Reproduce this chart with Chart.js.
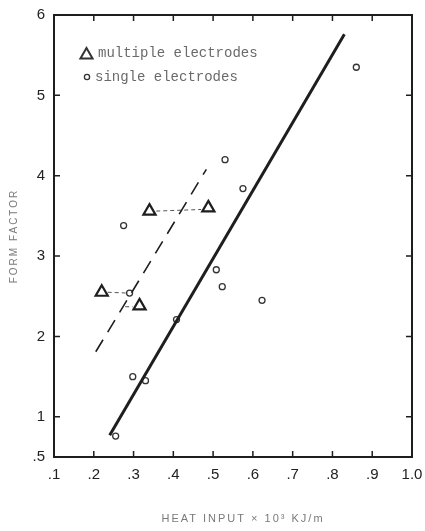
<!DOCTYPE html>
<html>
<head>
<meta charset="utf-8">
<script src="https://cdn.jsdelivr.net/npm/chart.js@4.4.1/dist/chart.umd.min.js"></script>
<style>
  html, body { margin: 0; padding: 0; background: #fff; }
  #c { display: block; }
</style>
</head>
<body>
<canvas id="c" width="425" height="531"></canvas>
<script>
// ---- data ----
const xTicks = [0.1, 0.2, 0.3, 0.4, 0.5, 0.6, 0.7, 0.8, 0.9, 1.0];
const xTickLabels = ['.1', '.2', '.3', '.4', '.5', '.6', '.7', '.8', '.9', '1.0'];
const yTicks = [0.5, 1, 2, 3, 4, 5, 6];
const yTickLabels = ['.5', '1', '2', '3', '4', '5', '6'];

const singleX = [0.255, 0.275, 0.290, 0.298, 0.330, 0.408, 0.508, 0.523, 0.530, 0.575, 0.623, 0.860];
const singleY = [0.76, 3.38, 2.54, 1.50, 1.45, 2.21, 2.83, 2.62, 4.20, 3.84, 2.45, 5.35];

const multiX = [0.220, 0.315, 0.340, 0.488];
const multiY = [2.55, 2.38, 3.56, 3.60];

const singleFitX = [0.240, 0.830];
const singleFitY = [0.77, 5.76];

const multiFitX = [0.205, 0.483];
const multiFitY = [1.81, 4.08];

const link1X = [0.235, 0.283]; const link1Y = [2.55, 2.54];
const link2X = [0.279, 0.298]; const link2Y = [2.37, 2.37];
const link3X = [0.357, 0.470]; const link3Y = [3.56, 3.58];

const legendLabels = ['multiple electrodes', 'single electrodes'];
const xTitle = 'HEAT INPUT \u00d7 10\u00b3 KJ/m';
const yTitle = 'FORM FACTOR';

const pts = (xs, ys) => xs.map((x, i) => ({ x: x, y: ys[i] }));

const INK = '#1e1e1e';

const linkStyle = {
  showLine: true, pointRadius: 0, borderColor: '#555', borderWidth: 1,
  borderDash: [4, 3], fill: false
};

const framePlugin = {
  id: 'frame',
  afterDatasetsDraw(chart) {
    const { ctx, chartArea: a, scales } = chart;
    const xs = scales.x, ys = scales.y;
    ctx.save();
    ctx.strokeStyle = INK;
    ctx.lineWidth = 2;
    ctx.strokeRect(a.left, a.top, a.right - a.left, a.bottom - a.top);
    ctx.lineWidth = 1.5;
    const tl = 6;
    ctx.beginPath();
    xTicks.forEach(v => {
      if (v <= xs.min || v >= xs.max) return;
      const px = xs.getPixelForValue(v);
      ctx.moveTo(px, a.bottom); ctx.lineTo(px, a.bottom - tl);
      ctx.moveTo(px, a.top); ctx.lineTo(px, a.top + tl);
    });
    yTicks.forEach(v => {
      if (v <= ys.min || v >= ys.max) return;
      const py = ys.getPixelForValue(v);
      ctx.moveTo(a.left, py); ctx.lineTo(a.left + tl, py);
      ctx.moveTo(a.right, py); ctx.lineTo(a.right - tl, py);
    });
    ctx.stroke();
    ctx.restore();
  },
  afterDraw(chart) {
    const { ctx, chartArea: a } = chart;
    ctx.save();
    // legend inside the plot
    ctx.textBaseline = 'middle';
    ctx.textAlign = 'left';
    ctx.font = '14px "Liberation Mono", "DejaVu Sans Mono", monospace';
    ctx.strokeStyle = '#333';
    ctx.fillStyle = 'rgba(255,255,255,0)';
    ctx.lineWidth = 2;
    Chart.helpers.drawPoint(ctx, { pointStyle: 'triangle', radius: 7, borderWidth: 2 }, 86.5, 55);
    ctx.fillStyle = '#fff';
    ctx.lineWidth = 1.3;
    Chart.helpers.drawPoint(ctx, { pointStyle: 'circle', radius: 2.6, borderWidth: 1.3 }, 87, 77);
    ctx.fillStyle = '#6a6a6a';
    ctx.fillText(legendLabels[0], 98, 53);
    ctx.fillText(legendLabels[1], 95, 77);

    // axis titles
    ctx.fillStyle = '#7a7a7a';
    ctx.textAlign = 'center';
    if ('letterSpacing' in ctx) ctx.letterSpacing = '2px';
    ctx.font = '11px "Liberation Sans", Arial, sans-serif';
    ctx.fillText(xTitle, 243, 519);
    ctx.translate(14, (a.top + a.bottom) / 2);
    ctx.rotate(-Math.PI / 2);
    ctx.font = '10px "Liberation Sans", Arial, sans-serif';
    ctx.fillText(yTitle, 0, 0);
    ctx.restore();
  }
};

new Chart(document.getElementById('c'), {
  type: 'scatter',
  data: {
    datasets: [
      {
        label: 'single electrodes fit',
        data: pts(singleFitX, singleFitY),
        showLine: true, pointRadius: 0, borderColor: INK, borderWidth: 3, fill: false
      },
      {
        label: 'multiple electrodes fit',
        data: pts(multiFitX, multiFitY),
        showLine: true, pointRadius: 0, borderColor: INK, borderWidth: 1.6,
        borderDash: [14, 9], fill: false
      },
      Object.assign({ label: 'link 1', data: pts(link1X, link1Y) }, linkStyle),
      Object.assign({ label: 'link 2', data: pts(link2X, link2Y) }, linkStyle),
      Object.assign({ label: 'link 3', data: pts(link3X, link3Y) }, linkStyle),
      {
        label: legendLabels[1],
        data: pts(singleX, singleY),
        pointStyle: 'circle', pointRadius: 3, borderColor: '#333',
        backgroundColor: '#fff', borderWidth: 1.3
      },
      {
        label: legendLabels[0],
        data: pts(multiX, multiY),
        pointStyle: 'triangle', pointRadius: 7, borderColor: INK,
        backgroundColor: 'rgba(255,255,255,0)', borderWidth: 2.2
      }
    ]
  },
  options: {
    responsive: false,
    animation: false,
    devicePixelRatio: 1,
    layout: { padding: { left: 0, right: 13, top: 15, bottom: 0 } },
    plugins: { legend: { display: false }, tooltip: { enabled: false } },
    scales: {
      x: {
        type: 'linear', min: 0.1, max: 1.0,
        grid: { display: false, drawTicks: false },
        border: { display: false },
        afterBuildTicks: s => { s.ticks = xTicks.map(v => ({ value: v })); },
        afterFit: s => { s.height = 74; s.paddingLeft = 0; s.paddingRight = 0; },
        ticks: {
          autoSkip: false, maxRotation: 0, padding: 9, color: '#222',
          font: { family: '"Liberation Sans", Arial, sans-serif', size: 15 },
          callback: (v, i) => xTickLabels[i]
        }
      },
      y: {
        type: 'linear', min: 0.5, max: 6,
        grid: { display: false, drawTicks: false },
        border: { display: false },
        afterBuildTicks: s => { s.ticks = yTicks.map(v => ({ value: v })); },
        afterFit: s => { s.width = 54; s.paddingTop = 0; s.paddingBottom = 0; },
        ticks: {
          autoSkip: false, padding: 9, color: '#222',
          font: { family: '"Liberation Sans", Arial, sans-serif', size: 15 },
          callback: (v, i) => yTickLabels[i]
        }
      }
    }
  },
  plugins: [framePlugin]
});
</script>
</body>
</html>
